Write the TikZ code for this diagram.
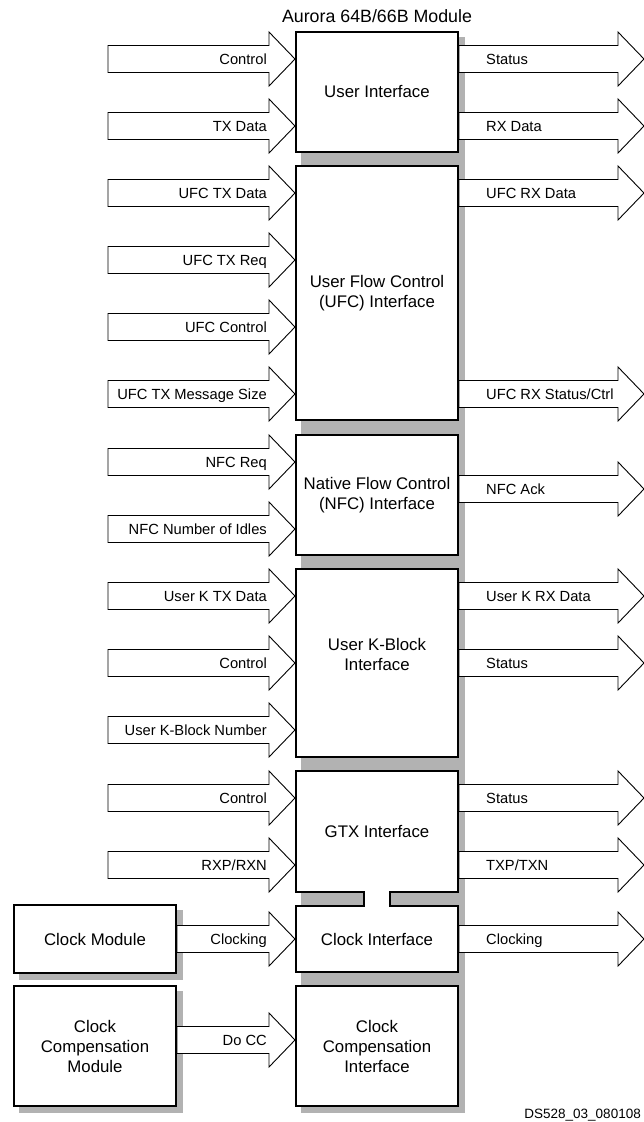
\documentclass[tikz,border=0pt]{standalone}
\usepackage{fontspec}
\setmainfont{Liberation Sans}
\usetikzlibrary{positioning, calc, backgrounds}

\newcommand{\blkfont}{\fontsize{16.8}{20}\selectfont}
\newcommand{\sigfont}{\fontsize{14.7}{17}\selectfont}
% wide arrow from tail #1 to tip #2
\newcommand{\fatarrow}[2]{%
  \draw[bigarrow] (#1) ++(0,-13.5) -- ($(#2)+(-26,-13.5)$) -- ++(0,-13.5)
    -- (#2) -- ++(-26,27) -- ++(0,-13.5) -- ($(#1)+(0,13.5)$) -- cycle;}

\begin{document}
\begin{tikzpicture}[x=1pt,y=-1pt]
\tikzstyle{block}=[draw, line width=2pt, fill=white, minimum width=162pt, align=center, font=\blkfont, inner sep=0pt]
\tikzstyle{bigarrow}=[draw, fill=white, line width=0.9pt, line join=miter]
\tikzstyle{inlabel}=[anchor=base east, font=\sigfont, inner sep=0pt]
\tikzstyle{outlabel}=[anchor=base west, font=\sigfont, inner sep=0pt]
\tikzstyle{shadowfill}=[fill=black!30]
\useasboundingbox (0,0) rectangle (643,1122);

\node[block, minimum height=120pt] (ui) at (377,92) {User Interface};
\node[block, minimum height=254pt] (ufc) at (377,293) {User Flow Control\\(UFC) Interface};
\node[block, minimum height=120pt] (nfc) at (377,495) {Native Flow Control\\(NFC) Interface};
\node[block, minimum height=188pt] (kb) at (377,663) {};
\node[font=\blkfont, align=center] at ([yshift=9pt]kb.center) {User K-Block\\Interface};
\node[block, minimum height=121pt] (gtx) at (377,831.5) {GTX Interface};
\node[block, minimum height=66pt] (clk) at (377,939) {Clock Interface};
\node[block, minimum height=120pt] (cci) at (377,1046) {Clock\\Compensation\\Interface};
\node[block, minimum height=68pt, left=118pt of clk] (cm) {Clock Module};
\node[block, minimum height=120pt, left=118pt of cci] (ccm) {Clock\\Compensation\\Module};

\node[font=\fontsize{17.8}{21}\selectfont, inner sep=0pt, above=8pt of ui] (title) {Aurora 64B/66B Module};
\node[font=\fontsize{13.5}{16}\selectfont, anchor=east, inner sep=0pt] (dsnum) at (641,1115) {DS528\_03\_080108};

% link between GTX and clock interface
\fill[white] ($(gtx.south)+(-12,-2.5)$) rectangle ($(clk.north)+(12,2.5)$);
\draw[line width=2pt] ($(gtx.south)+(-13,0)$) -- ($(clk.north)+(-13,0)$)
  ($(gtx.south)+(13,0)$) -- ($(clk.north)+(13,0)$);

\begin{pgfonlayer}{background}
\fill[shadowfill] ($(ui.north west)+(6,6)$) rectangle ($(cci.south east)+(6,6)$);
\fill[shadowfill] ($(cm.north west)+(6,6)$) rectangle ($(cm.south east)+(6,6)$);
\fill[shadowfill] ($(ccm.north west)+(6,6)$) rectangle ($(ccm.south east)+(6,6)$);

\foreach \b/\y/\t in {ui/59/Control, ui/126/TX Data,
    ufc/193/UFC TX Data, ufc/260/UFC TX Req, ufc/327/UFC Control, ufc/394/UFC TX Message Size,
    nfc/462/NFC Req, nfc/529/NFC Number of Idles,
    kb/596/User K TX Data, kb/663/Control, kb/730/User K-Block Number,
    gtx/798/Control, gtx/865/{RXP/RXN}}{
  \coordinate (in\y) at (108,\y);
  \fatarrow{in\y}{\b.west |- in\y}
  \node[inlabel] at ($(\b.west |- in\y)+(-28,5.3)$) {\t};
}

\foreach \b/\y/\t in {ui/59/Status, ui/126/RX Data, ufc/193/UFC RX Data, ufc/394/{UFC RX Status/Ctrl},
    nfc/489/NFC Ack, kb/596/User K RX Data, kb/663/Status,
    gtx/798/Status, gtx/865/{TXP/TXN}, clk/939/Clocking}{
  \coordinate (out\y) at (644,\y);
  \fatarrow{\b.east |- out\y}{out\y}
  \node[outlabel] at ($(\b.east |- out\y)+(27,5.3)$) {\t};
}

\fatarrow{cm.east}{clk.west}
\node[inlabel] at ($(clk.west)+(-28,5.3)$) {Clocking};
\coordinate (ccout) at ([yshift=6pt]ccm.east);
\fatarrow{ccout}{cci.west |- ccout}
\node[inlabel] at ($(cci.west |- ccout)+(-28,5.3)$) {Do CC};
\end{pgfonlayer}
\end{tikzpicture}
\end{document}
